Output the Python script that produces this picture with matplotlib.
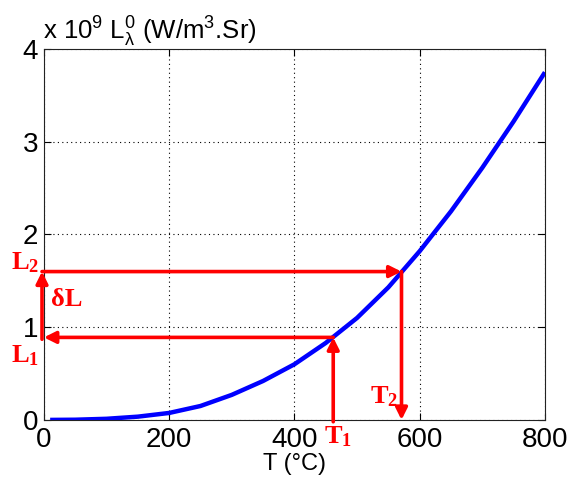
import matplotlib
matplotlib.use("Agg")
import matplotlib.pyplot as plt
import numpy as np

plt.rcParams['font.family'] = ['Liberation Sans', 'DejaVu Sans']
plt.rcParams['mathtext.default'] = 'regular'

temps = [10, 50, 100, 150, 200, 250, 300, 350, 400, 450, 500, 550, 600, 650, 700, 750, 800]
radiance = [0.0, 0.002, 0.012, 0.035, 0.075, 0.15, 0.27, 0.42, 0.6, 0.83, 1.1, 1.43, 1.82, 2.25, 2.72, 3.22, 3.75]
xticks = [0, 200, 400, 600, 800]
yticks = [0, 1, 2, 3, 4]
T1, L1 = 462, 0.89
T2, L2 = 571, 1.6

fig = plt.figure(figsize=(5.7, 4.86), dpi=100)
ax = fig.add_axes([0.077, 0.136, 0.879, 0.763])
ax.plot(temps, radiance, color='#0000ff', lw=3.2, solid_capstyle='butt', solid_joinstyle='round', zorder=3)
ax.set_xlim(0, 800)
ax.set_ylim(0, 4)
ax.set_xticks(xticks)
ax.set_yticks(yticks)
ax.tick_params(direction='in', top=True, right=True, labelsize=20, length=5, width=0.8)
ax.tick_params(axis='x', pad=5)
ax.tick_params(axis='y', pad=4)
ax.grid(True, linestyle=(0, (1, 3)), color='black', lw=0.8)
for s in ax.spines.values():
    s.set_linewidth(0.8)
    s.set_color('#222222')
ax.set_xlabel('T (°C)', fontsize=17, labelpad=0)

fig.text(0.075, 0.918, r'x 10$^9$ L$_\lambda^0$ (W/m$^3$.Sr)', fontsize=18.5, ha='left', va='baseline')

red = '#ff0000'
ap = dict(arrowstyle='-|>,head_length=0.7,head_width=0.35', color=red, lw=2.6, shrinkA=0, shrinkB=0)
# L2 -> curve -> T2
ax.annotate('', xy=(T2, L2), xytext=(-3, L2), arrowprops=ap, annotation_clip=False, zorder=4)
ax.annotate('', xy=(T2, 0), xytext=(T2, L2), arrowprops=ap, annotation_clip=False, zorder=4)
# T1 -> curve -> L1
ax.annotate('', xy=(T1, L1), xytext=(T1, -0.02), arrowprops=ap, annotation_clip=False, zorder=4)
ax.annotate('', xy=(0, L1), xytext=(T1, L1), arrowprops=ap, annotation_clip=False, zorder=4)
# delta L
ax.annotate('', xy=(-3, L2), xytext=(-3, L1 - 0.02), arrowprops=ap, annotation_clip=False, zorder=4)

tk = dict(color=red, fontsize=19, family=['Liberation Serif', 'DejaVu Serif'], fontweight='semibold')
ax.text(-7, 1.70, r'L$_2$', ha='right', va='center', **tk)
ax.text(-7, 0.69, r'L$_1$', ha='right', va='center', **tk)
ax.text(12, (L1 + L2) / 2 + 0.05, r'δL', ha='left', va='center', **tk)
ax.text(T1 + 8, -0.05, r'T$_1$', ha='center', va='top', **tk)
ax.text(T2 - 6, 0.12, r'T$_2$', ha='right', va='bottom', **tk)

fig.savefig('out.png', dpi=100)
